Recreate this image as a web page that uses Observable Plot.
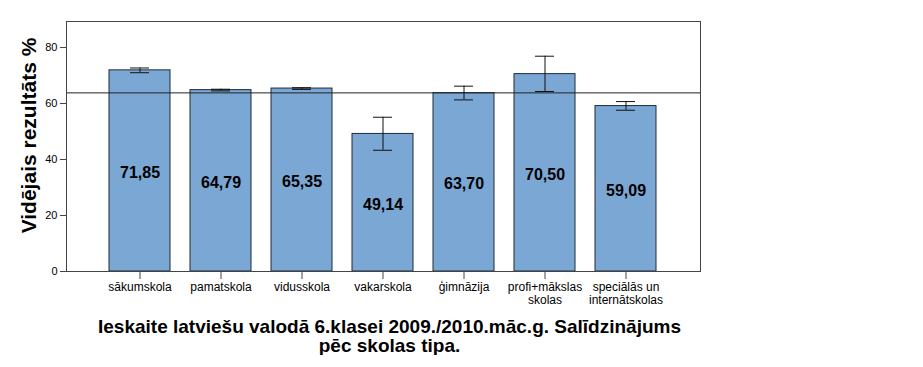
<!DOCTYPE html>
<html>
<head>
<meta charset="utf-8">
<script src="https://cdn.jsdelivr.net/npm/d3@7"></script>
<script src="https://cdn.jsdelivr.net/npm/@observablehq/plot@0.6"></script>
<style>
  html, body { margin: 0; padding: 0; background: #fff; }
  #title { width: 779px; text-align: center; font-family: "Liberation Sans", Arial, sans-serif; font-weight: bold; font-size: 19px; line-height: 19px; margin-top: 7px; color: #000; }
</style>
</head>
<body>
<div id="chart"></div>
<div id="title">Ieskaite latviešu valodā 6.klasei 2009./2010.māc.g. Salīdzinājums<br>pēc skolas tipa.</div>
<script>
const categories = ["sākumskola", "pamatskola", "vidusskola", "vakarskola", "ģimnāzija", "profi+mākslas\nskolas", "speciālās un\ninternātskolas"];
const means = [71.85, 64.79, 65.35, 49.14, 63.70, 70.50, 59.09];
const errLow = [71.0, 64.5, 65.05, 43.3, 61.3, 64.3, 57.6];
const errHigh = [72.7, 65.1, 65.65, 55.1, 66.2, 76.9, 60.7];
const overallMean = [63.8];
const yTicks = [0, 20, 40, 60, 80];
const yLabel = "Vidējais rezultāts %";

const data = categories.map((c, i) => ({cat: c, value: means[i], lo: errLow[i], hi: errHigh[i]}));
const font = "'Liberation Sans', Arial, sans-serif";

const chart = Plot.plot({
  width: 923,
  height: 310,
  marginLeft: 66,
  marginRight: 223,
  marginTop: 21,
  marginBottom: 39,
  style: {fontFamily: font, color: "#000", background: "#fff"},
  x: {type: "band", domain: categories, paddingInner: 0.244, paddingOuter: 0.51, label: null},
  y: {domain: [0, 89.3], label: null},
  marks: [
    Plot.barY(data, {x: "cat", y: "value", fill: "#7ba7d5", stroke: "#1e2a36", strokeWidth: 1}),
    Plot.ruleY(overallMean, {stroke: "#222", strokeWidth: 1}),
    Plot.ruleX(data, {x: "cat", y1: "lo", y2: "hi", stroke: "#111", strokeWidth: 1}),
    Plot.tickY(data, {x: "cat", y: "lo", stroke: "#111", strokeWidth: 1, insetLeft: 21, insetRight: 21}),
    Plot.tickY(data, {x: "cat", y: "hi", stroke: "#111", strokeWidth: 1, insetLeft: 21, insetRight: 21}),
    Plot.text(data, {x: "cat", y: d => d.value / 2, dy: 2, text: d => d.value.toFixed(2).replace(".", ","), fontSize: 16, fontWeight: "bold", fill: "#000"}),
    Plot.frame({stroke: "#444", strokeWidth: 1}),
    Plot.axisY({ticks: yTicks, tickSize: 6, tickPadding: 3, fontSize: 11, label: null, stroke: "#444"}),
    Plot.axisX({tickSize: 8, tickPadding: 3, fontSize: 12, label: null, stroke: "#444", lineHeight: 1.05}),
    Plot.text([yLabel], {frameAnchor: "left", textAnchor: "middle", rotate: -90, dx: -37, dy: -11, fontSize: 21, fontWeight: "bold", fill: "#000"})
  ]
});
document.getElementById("chart").appendChild(chart);
</script>
</body>
</html>
